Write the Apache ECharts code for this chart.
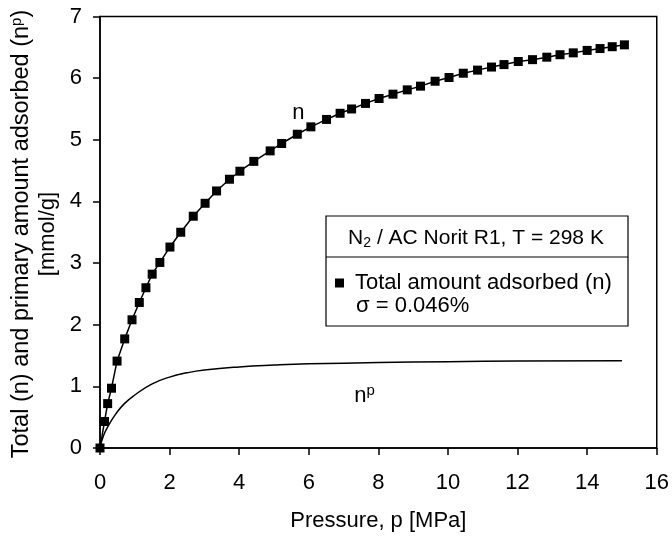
<!DOCTYPE html>
<html>
<head>
<meta charset="utf-8">
<script src="https://cdn.jsdelivr.net/npm/echarts@6/dist/echarts.min.js"></script>
<style>
  html, body { margin: 0; padding: 0; background: #fff; }
  #chart { width: 672px; height: 537px; }
</style>
</head>
<body>
<div id="chart"></div>
<script>
// total amount adsorbed (n), squares
var nPressure = [0, 0.13, 0.22, 0.33, 0.49, 0.71, 0.92, 1.13, 1.32, 1.50, 1.72, 2.01, 2.32, 2.68, 3.02, 3.35,
  3.72, 4.02, 4.42, 4.89, 5.22, 5.67, 6.06, 6.51, 6.90, 7.23, 7.63, 8.02, 8.42, 8.83, 9.21, 9.63, 10.03,
  10.44, 10.85, 11.25, 11.61, 12.02, 12.43, 12.84, 13.22, 13.60, 14.00, 14.37, 14.72, 15.07];
var nValues = [0, 0.43, 0.72, 0.97, 1.41, 1.77, 2.08, 2.36, 2.60, 2.82, 3.01, 3.26, 3.50, 3.76, 3.97, 4.17,
  4.36, 4.49, 4.65, 4.82, 4.94, 5.09, 5.21, 5.33, 5.43, 5.50, 5.59, 5.67, 5.74, 5.81, 5.87, 5.95, 6.01,
  6.08, 6.13, 6.18, 6.22, 6.27, 6.30, 6.34, 6.38, 6.41, 6.45, 6.48, 6.51, 6.54];

// primary amount adsorbed (n^p), line only
var npPressure = [0, 0.1, 0.25, 0.45, 0.7, 1.0, 1.5, 2.0, 2.5, 3.0, 4.0, 5.0, 6.0, 8.0, 10.0, 12.0, 15.0];
var npValues = [0, 0.2, 0.37, 0.55, 0.72, 0.86, 1.04, 1.15, 1.22, 1.265, 1.315, 1.345, 1.365, 1.385, 1.40, 1.41, 1.415];

var font = 'Liberation Sans, Arial, sans-serif';

function pairs(xs, ys) {
  var out = [];
  for (var i = 0; i < xs.length; i++) out.push([xs[i], ys[i]]);
  return out;
}

// raised / lowered tokens done with padding
var supStyle = { fontSize: 15, fontFamily: font, lineHeight: 15, padding: [0, 0, 10, 0], fill: '#000' };
var subStyle = { fontSize: 14, fontFamily: font, lineHeight: 14, padding: [10, 0, 0, 0], fill: '#000' };

var chart = echarts.init(document.getElementById('chart'));
chart.setOption({
  animation: false,
  textStyle: { fontFamily: font, color: '#000' },
  grid: {
    left: 100, right: 15, top: 16.5, bottom: 83,
    show: true, borderColor: '#000', borderWidth: 1.5
  },
  legend: {
    data: ['Total amount adsorbed (n)'],
    left: 330, top: 267,
    icon: 'rect', itemWidth: 9, itemHeight: 9,
    textStyle: { fontSize: 22, fontFamily: font, color: '#000', padding: [0, 0, 0, 6] }
  },
  xAxis: {
    type: 'value', min: 0, max: 16, interval: 2,
    name: 'Pressure, p [MPa]', nameLocation: 'middle', nameGap: 62,
    nameTextStyle: { fontSize: 22, fontFamily: font, color: '#000' },
    axisLine: { lineStyle: { color: '#000', width: 1.5 } },
    axisTick: { length: 7, lineStyle: { color: '#000', width: 1.5 } },
    axisLabel: { fontSize: 22, color: '#000', margin: 24 },
    splitLine: { show: false }
  },
  yAxis: {
    type: 'value', min: 0, max: 7, interval: 1,
    axisLine: { show: true, lineStyle: { color: '#000', width: 1.5 } },
    axisTick: { show: true, length: 7, lineStyle: { color: '#000', width: 1.5 } },
    axisLabel: { fontSize: 22, color: '#000', margin: 18 },
    splitLine: { show: false }
  },
  series: [
    {
      name: 'Total amount adsorbed (n)',
      type: 'line',
      data: pairs(nPressure, nValues),
      symbol: 'rect', symbolSize: 9,
      itemStyle: { color: '#000' },
      lineStyle: { color: '#000', width: 1.5 }
    },
    {
      name: 'np',
      type: 'line',
      data: pairs(npPressure, npValues),
      smooth: 0.5,
      showSymbol: false,
      lineStyle: { color: '#000', width: 1.5 }
    }
  ]
});

// curve labels anchored in data space
var nPos = chart.convertToPixel({ gridIndex: 0 }, [5.7, 5.43]);
var npPos = chart.convertToPixel({ gridIndex: 0 }, [7.6, 0.85]);

chart.setOption({
  graphic: [
    // y axis title, two rotated lines
    {
      type: 'text', x: 22, y: 234, rotation: Math.PI / 2,
      style: {
        text: 'Total (n) and primary amount adsorbed (n{sup|p})',
        font: '23.5px ' + font, fill: '#000', align: 'center', verticalAlign: 'middle',
        rich: { sup: supStyle }
      }
    },
    {
      type: 'text', x: 48, y: 234, rotation: Math.PI / 2,
      style: { text: '[mmol/g]', font: '22px ' + font, fill: '#000', align: 'center', verticalAlign: 'middle' }
    },
    // legend box
    {
      type: 'rect', shape: { x: 326, y: 216, width: 302, height: 110 },
      style: { fill: 'transparent', stroke: '#000', lineWidth: 1.2 }
    },
    {
      type: 'line', shape: { x1: 326, y1: 257, x2: 628, y2: 257 },
      style: { stroke: '#000', lineWidth: 1.2 }
    },
    {
      type: 'text', x: 476, y: 238,
      style: {
        text: 'N{sub|2} / AC Norit R1, T = 298 K',
        font: '21px ' + font, fill: '#000', align: 'center', verticalAlign: 'middle',
        rich: { sub: subStyle }
      }
    },
    {
      type: 'text', x: 356, y: 306,
      style: { text: 'σ = 0.046%', font: '22px ' + font, fill: '#000', align: 'left', verticalAlign: 'middle' }
    },
    {
      type: 'text', x: nPos[0], y: nPos[1],
      style: { text: 'n', font: '22px ' + font, fill: '#000', align: 'center', verticalAlign: 'middle' }
    },
    {
      type: 'text', x: npPos[0], y: npPos[1],
      style: {
        text: 'n{sup|p}', font: '22px ' + font, fill: '#000', align: 'center', verticalAlign: 'middle',
        rich: { sup: supStyle }
      }
    }
  ]
});
</script>
</body>
</html>
